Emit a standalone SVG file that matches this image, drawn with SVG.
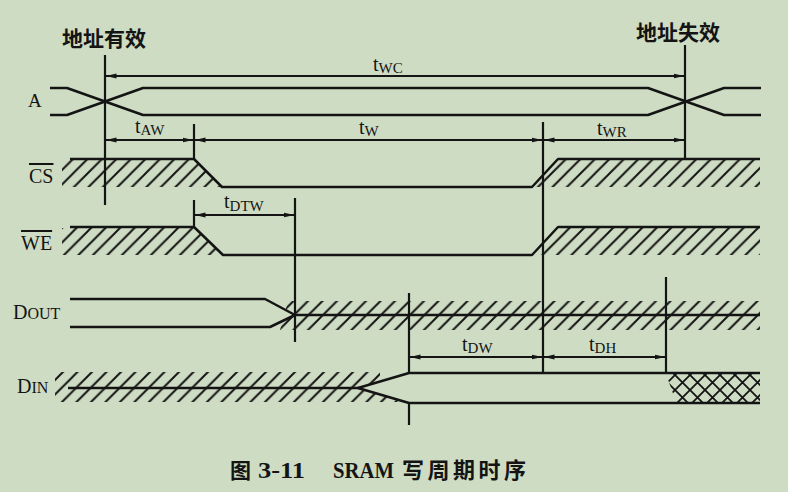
<svg xmlns="http://www.w3.org/2000/svg" width="788" height="492" viewBox="0 0 788 492">
<style>
.sig{fill:none;stroke:#141414;stroke-width:2.5;stroke-linejoin:round}
.tick{fill:none;stroke:#141414;stroke-width:2.2}
.dim{fill:none;stroke:#141414;stroke-width:1.9;marker-start:url(#arr);marker-end:url(#arr)}
.lbl{font-family:"Liberation Serif","Times New Roman",serif;fill:#141414}
.cjk{font-family:"Noto Sans CJK SC",sans-serif;font-weight:bold;fill:#141414;font-size:21px}
.t{font-size:20px}
.sub{font-size:15px}
.ov{text-decoration:overline}
.h{fill:url(#hatch);stroke:none}
</style>
<defs>
<marker id="arr" viewBox="0 0 11 6" refX="10.5" refY="3" markerWidth="11" markerHeight="6" markerUnits="userSpaceOnUse" orient="auto-start-reverse">
<path d="M0,0.6 L11,3 L0,5.4 z" fill="#141414"/>
</marker>
<pattern id="hatch" patternUnits="userSpaceOnUse" width="14.5" height="14.5">
<path d="M0,14.5 L14.5,0 M-2,2 L2,-2 M12.5,16.5 L16.5,12.5" stroke="#141414" stroke-width="2"/>
</pattern>
<pattern id="xhatch" patternUnits="userSpaceOnUse" width="15" height="15">
<path d="M0,15 L15,0 M-2,2 L2,-2 M13,17 L17,13 M0,0 L15,15 M13,-2 L17,2 M-2,13 L2,17" stroke="#141414" stroke-width="1.8"/>
</pattern>
</defs>
<rect x="0" y="0" width="788" height="492" fill="#cedcc3"/>

<g id="title-valid"><text class="cjk" x="62" y="46">地址有效</text></g>
<g id="title-invalid"><text class="cjk" x="636" y="40">地址失效</text></g>

<g id="sig-A">
<text class="lbl" x="28" y="107" font-size="19">A</text>
<path class="sig" d="M50,88 H67 L143,115 H648 L724,88 H761"/>
<path class="sig" d="M50,115 H67 L143,88 H648 L724,115 H761"/>
</g>

<g id="sig-CS">
<text class="lbl ov" x="29" y="183" font-size="20">CS</text>
<polygon class="h" points="62,160 194,160 222,187 62,187"/>
<polygon class="h" points="558,160 760,160 760,187 532,187"/>
<path class="sig" d="M70,159 H194 L222,187 H532 L558,159 H760"/>
</g>

<g id="sig-WE">
<text class="lbl ov" x="21" y="250" font-size="20">WE</text>
<polygon class="h" points="62,228 194,228 223,255 62,255"/>
<polygon class="h" points="558,228 760,228 760,255 532,255"/>
<path class="sig" d="M70,227 H194 L223,255 H532 L558,227 H760"/>
</g>

<g id="sig-DOUT">
<text class="lbl" x="13" y="319" font-size="20">D<tspan font-size="16">OUT</tspan></text>
<polygon class="h" points="288,301 760,301 760,330 280,330"/>
<path class="sig" d="M70,299 H265 L295,315 H760"/>
<path class="sig" d="M70,327 H270 L295,315"/>
</g>

<g id="sig-DIN">
<text class="lbl" x="17" y="393" font-size="20">D<tspan font-size="16">IN</tspan></text>
<polygon class="h" points="55,372 380,372 380,381.5 358,388 400,400.5 400,402 55,402"/>
<polygon fill="url(#xhatch)" points="666,374 760,374 760,402 676,402"/>
<path class="sig" d="M68,388 H360"/>
<path class="sig" d="M358,388 L409,373 H760"/>
<path class="sig" d="M358,388 L409,403 H760"/>
</g>

<g id="connectors">
<line class="tick" x1="105" y1="55" x2="105" y2="205"/>
<line class="tick" x1="685" y1="45" x2="685" y2="158"/>
<line class="tick" x1="194" y1="124" x2="194" y2="159"/>
<line class="tick" x1="543" y1="122" x2="543" y2="372"/>
<line class="tick" x1="194" y1="200" x2="194" y2="227"/>
<line class="tick" x1="295" y1="198" x2="295" y2="342"/>
<line class="tick" x1="409" y1="293" x2="409" y2="373"/>
<line class="tick" x1="409" y1="403" x2="409" y2="425"/>
<line class="tick" x1="666" y1="277" x2="666" y2="372"/>
<line class="dim" x1="106" y1="76" x2="684" y2="76"/>
<line class="dim" x1="106" y1="140" x2="193" y2="140"/>
<line class="dim" x1="195" y1="140" x2="542" y2="140"/>
<line class="dim" x1="544" y1="140" x2="684" y2="140"/>
<line class="dim" x1="195" y1="215" x2="294" y2="215"/>
<line class="dim" x1="410" y1="357" x2="542" y2="357"/>
<line class="dim" x1="544" y1="357" x2="665" y2="357"/>
</g>

<g id="dim-labels" class="lbl">
<text class="t" x="373" y="71">t<tspan class="sub" dy="2">WC</tspan></text>
<text class="t" x="135" y="133">t<tspan class="sub" dy="2">AW</tspan></text>
<text class="t" x="359" y="134">t<tspan class="sub" dy="2">W</tspan></text>
<text class="t" x="597" y="135">t<tspan class="sub" dy="2">WR</tspan></text>
<text class="t" x="224" y="208">t<tspan class="sub" dy="3">DTW</tspan></text>
<text class="t" x="462" y="351">t<tspan class="sub" dy="2">DW</tspan></text>
<text class="t" x="589" y="351">t<tspan class="sub" dy="2">DH</tspan></text>
</g>

<g id="caption" font-weight="bold" fill="#141414">
<text x="230" y="478" font-family="Noto Sans CJK SC,sans-serif" font-size="21">图</text>
<text x="258" y="478" font-family="Liberation Serif,serif" font-size="23" textLength="47" lengthAdjust="spacingAndGlyphs">3-11</text>
<text x="333" y="478" font-family="Liberation Serif,serif" font-size="23" textLength="61" lengthAdjust="spacingAndGlyphs">SRAM</text>
<text x="402" y="478" font-family="Noto Sans CJK SC,sans-serif" font-size="22" letter-spacing="3.5">写周期时序</text>
</g>
</svg>
